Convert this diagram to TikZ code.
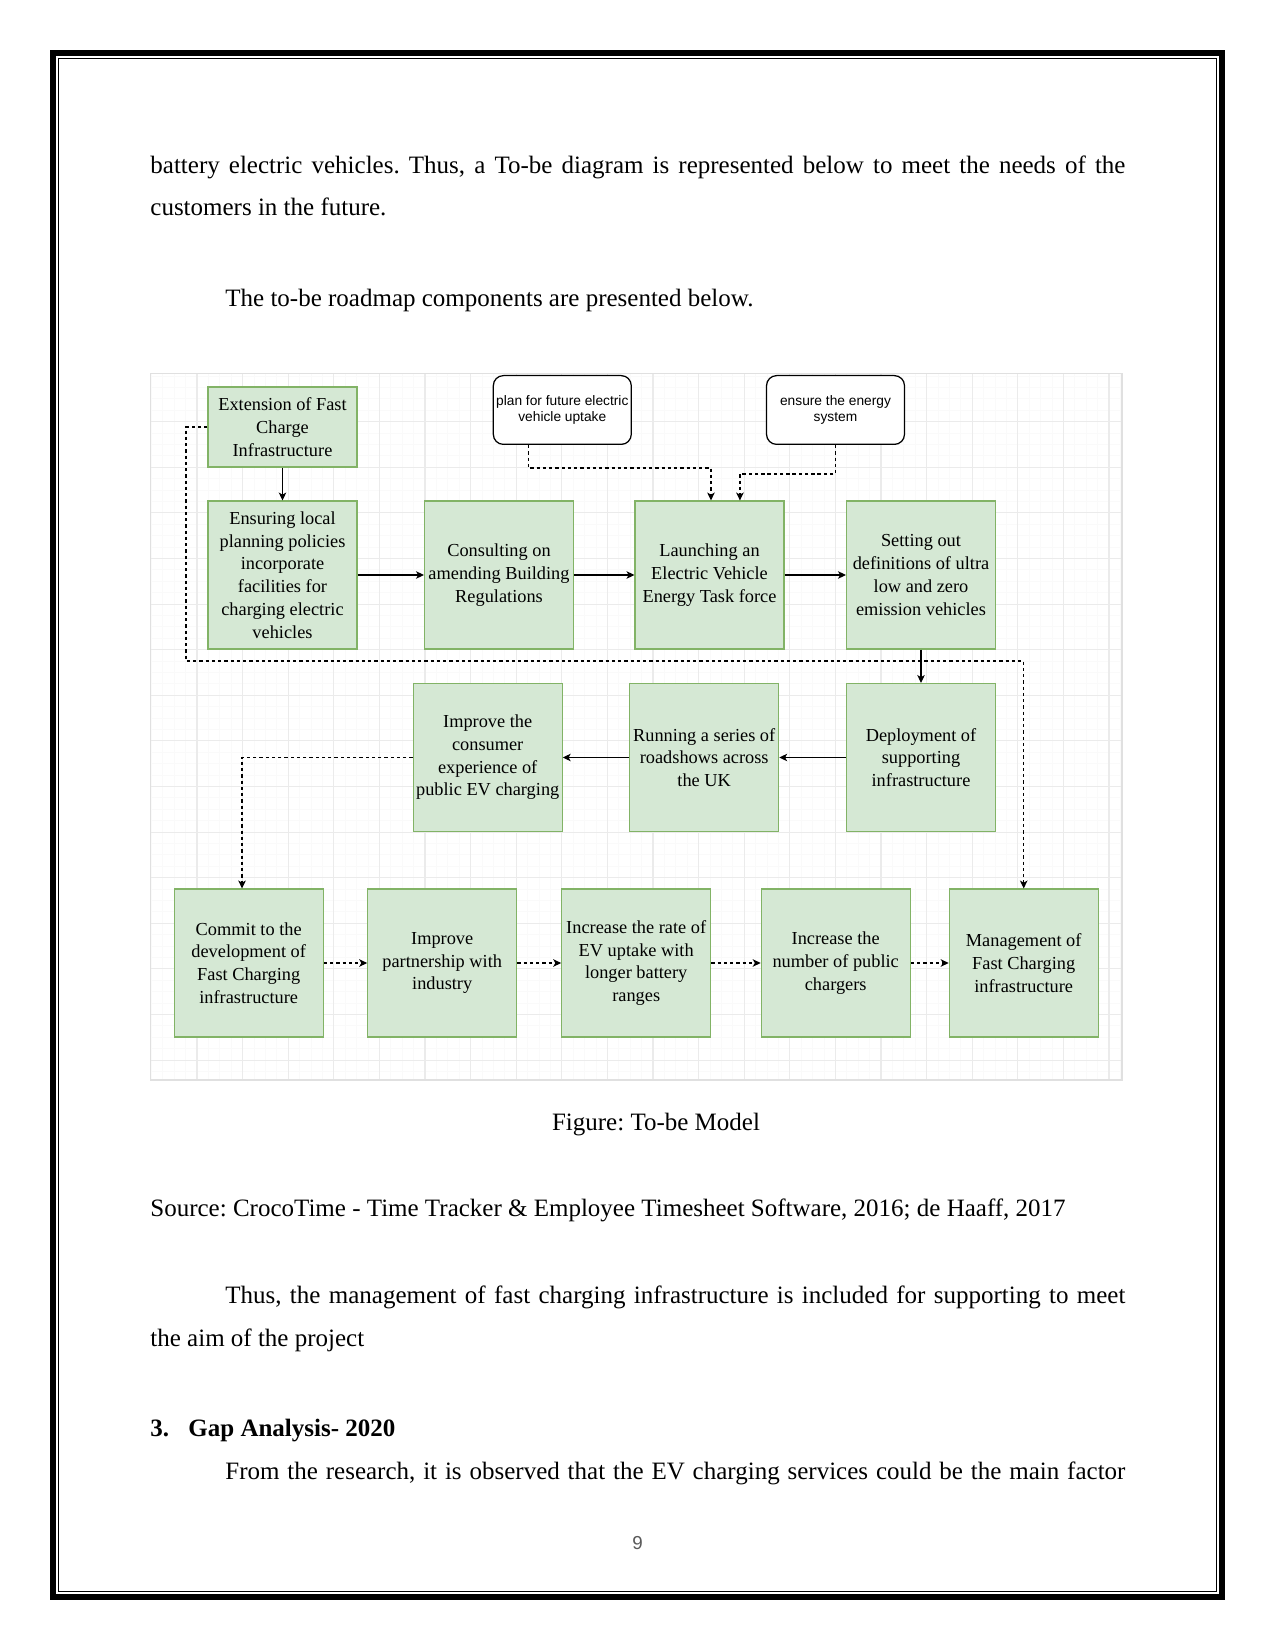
\documentclass[tikz,border=0pt]{standalone}
\usepackage{fontspec}
\setmainfont{Liberation Serif}
\newfontfamily\calloutfont{Liberation Sans}
\usetikzlibrary{arrows.meta}
\definecolor{boxfill}{HTML}{D5E8D4}
\definecolor{boxline}{HTML}{82B366}
\frenchspacing

\begin{document}
\begin{tikzpicture}[x=0.48pt,y=-0.48pt,
  task/.style={draw=boxline,fill=boxfill,line width=0.55pt,minimum width=71.5pt,minimum height=71pt,inner sep=0pt,align=center,font=\fontsize{8.8}{10.9}\selectfont},
  goal/.style={draw,fill=white,rounded corners=4.8pt,line width=0.6pt,minimum width=66.2pt,minimum height=33pt,inner sep=0pt,align=center,font=\calloutfont\fontsize{6.6}{7.7}\selectfont},
  link/.style={line width=0.55pt,-{Stealth[length=3.8pt,width=3.6pt,inset=1pt]}},
  dlink/.style={link,dash pattern=on 1.6pt off 1.4pt},
  body/.style={anchor=base west,inner sep=0pt,font=\fontsize{12}{14}\selectfont}]
  \useasboundingbox (0,0) rectangle (1275,1650);
  % page frame
  \draw[line width=2.88pt] (53,53) rectangle (1222,1597);
  \draw[line width=0.55pt] (58.6,58.6) rectangle (1216.4,1591.4);

  % text above the figure
  \node[body] (p1) at (150,173.3) {\makebox[468pt][s]{battery electric vehicles. Thus, a To-be diagram is represented below to meet the needs of the}};
  \node[body] (p2) at (150,216) {customers in the future.};
  \node[body] (p3) at (225,306.7) {The to-be roadmap components are presented below.};

  % diagram background grid
  \begin{scope}
    \clip (150.4,373.5) rectangle (1122,1080);
    \foreach \gx in {151.4,162.8,...,1122}{
      \draw[black!2,line width=0.4pt] (\gx,373.5) -- (\gx,1080);}
    \foreach \gy in {376.1,387.5,...,1080}{
      \draw[black!2,line width=0.4pt] (150.4,\gy) -- (1122,\gy);}
    \foreach \gx in {197,242.6,...,1122}{
      \draw[black!8,line width=0.5pt] (\gx,373.5) -- (\gx,1080);}
    \foreach \gy in {421.7,467.3,...,1080}{
      \draw[black!8,line width=0.5pt] (150.4,\gy) -- (1122,\gy);}
  \end{scope}
  \draw[black!12,line width=0.5pt] (150.4,373.5) rectangle (1122,1080);

  % roadmap steps
  \node[task,minimum height=38.4pt] (ext) at (282.5,427) {Extension of Fast\\Charge\\Infrastructure};
  \node[task] (ensure) at (282.5,575) {Ensuring local\\planning policies\\incorporate\\facilities for\\charging electric\\vehicles};
  \node[task] (consult) at (499,575) {Consulting on\\amending Building\\Regulations};
  \node[task] (launch) at (709.5,575) {Launching an\\Electric Vehicle\\Energy Task force};
  \node[task] (define) at (921,575) {Setting out\\definitions of ultra\\low and zero\\emission vehicles};
  \node[task] (consumer) at (487.7,757.5) {Improve the\\consumer\\experience of\\public EV charging};
  \node[task] (road) at (704.2,757.5) {Running a series of\\roadshows across\\the UK};
  \node[task] (deploy) at (921,757.5) {Deployment of\\supporting\\infrastructure};
  \node[task] (commit) at (248.7,963) {Commit to the\\development of\\Fast Charging\\infrastructure};
  \node[task] (partner) at (442.2,963) {Improve\\partnership with\\industry};
  \node[task] (rate) at (636.2,963) {Increase the rate of\\EV uptake with\\longer battery\\ranges};
  \node[task] (number) at (835.7,963) {Increase the\\number of public\\chargers};
  \node[task] (manage) at (1023.7,963) {Management of\\Fast Charging\\infrastructure};
  \node[goal] (future) at (562.3,410) {plan for future electric\\vehicle uptake};
  \node[goal] (energy) at (835.5,410) {ensure the energy\\system};

  % connectors
  \draw[link] (ext) -- (ensure);
  \draw[link] (ensure) -- (consult);
  \draw[link] (consult) -- (launch);
  \draw[link] (launch) -- (define);
  \draw[link] (define) -- (deploy);
  \draw[link] (deploy) -- (road);
  \draw[link] (road) -- (consumer);
  \draw[dlink] (consumer.west) -| ([xshift=-3.2pt]commit.north);
  \foreach \a/\b in {commit/partner,partner/rate,rate/number,number/manage}
    \draw[dlink] (\a) -- (\b);
  \coordinate (bend) at (186,661);
  \draw[dlink] (ext.west) -| (bend) -| (manage.north);
  \draw[dlink] ([xshift=-16.3pt]future.south) -- ++(0,23) -| ([xshift=0.7pt]launch.north);
  \draw[dlink] (energy.south) -- ++(0,29) -| ([xshift=14.6pt]launch.north);

  % text below the figure
  \node[body,anchor=base] (cap) at (656,1130.7) {Figure: To-be Model};
  \node[body] (src) at (150,1216.7) {Source: CrocoTime - Time Tracker \& Employee Timesheet Software, 2016; de Haaff, 2017};
  \node[body] (p4) at (225,1303) {\makebox[432pt][s]{Thus, the management of fast charging infrastructure is included for supporting to meet}};
  \node[body] (p5) at (150,1346.7) {the aim of the project};
  \node[body,font=\bfseries\fontsize{12}{14}\selectfont] (num) at (150,1436.7) {3.};
  \node[body,font=\bfseries\fontsize{12}{14}\selectfont] (head) at (188,1436.7) {Gap Analysis- 2020};
  \node[body] (p6) at (225,1479.5) {\makebox[432pt][s]{From the research, it is observed that the EV charging services could be the main factor}};
  \node[anchor=base,inner sep=0pt,text=black!65,font=\calloutfont\fontsize{9}{11}\selectfont] (pg) at (637.5,1549) {9};
\end{tikzpicture}
\end{document}
